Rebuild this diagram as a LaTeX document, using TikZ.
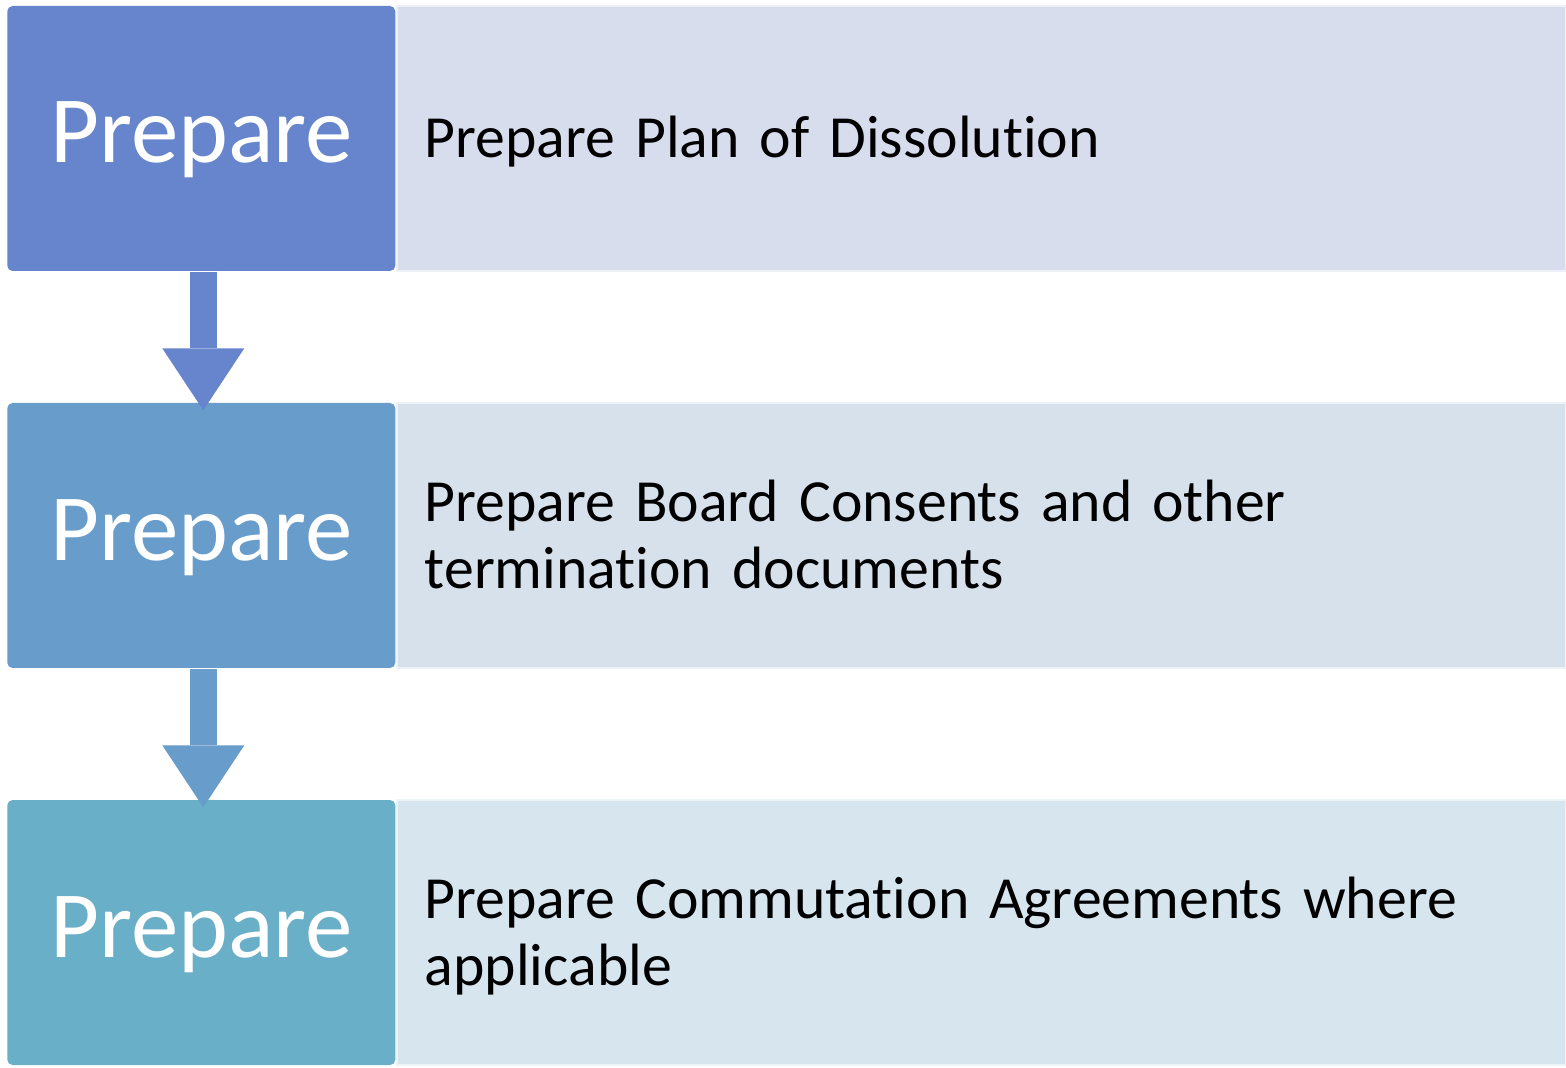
\documentclass[tikz,border=0pt]{standalone}
\usepackage{fontspec}
\setmainfont{Carlito}[Ligatures=NoCommon]
\usetikzlibrary{arrows.meta}
\usetikzlibrary{positioning}

\definecolor{stepA}{HTML}{6685CD}
\definecolor{stepB}{HTML}{679CCB}
\definecolor{stepC}{HTML}{6AAFC8}
\definecolor{descA}{HTML}{D8DDEE}
\definecolor{descB}{HTML}{D7E1EC}
\definecolor{descC}{HTML}{D7E6EE}

\tikzset{
  stepbox/.style={rectangle, rounded corners=1.5pt, minimum width=3.88cm, minimum height=2.65cm,
    inner sep=0pt, text height=0.49cm, text depth=0pt, text=white, font=\fontsize{27}{32}\selectfont},
  descbox/.style={rectangle, draw=white!55!#1, fill=#1, line width=0.5pt, minimum height=2.65cm,
    text width=11.13cm, inner xsep=0.28cm, inner ysep=0pt, align=left,
    font=\fontsize{17}{19.1}\selectfont,
    execute at begin node={\rule{0pt}{0.52cm}}, execute at end node={\rule[-0.13cm]{0pt}{0pt}}},
}

\begin{document}
\begin{tikzpicture}
\useasboundingbox (0,0) rectangle (15.66,10.67);
\fill[white] (0,0) rectangle (15.66,10.67);
% the three steps, each with its description to the right
\foreach \i/\y/\c/\t in {1/9.285/A/{Prepare Plan of Dissolution},
                          2/5.315/B/{Prepare Board Consents and other\\termination documents},
                          3/1.345/C/{Prepare Commutation Agreements where\\applicable}} {
 \node[descbox=desc\c, anchor=west] (desc\i) at (3.96,\y) {\t};
 \node[stepbox, fill=step\c, left=0pt of desc\i] (step\i) {Prepare};
}
% block arrows between the steps
\foreach \i/\j/\c in {1/2/A, 2/3/B} {
 \draw[step\c, line width=0.27cm, shorten >=-0.08cm, -{Triangle[length=0.62cm, width=0.82cm, line width=0pt]}]
   ([xshift=0.02cm]step\i.south) -- ([xshift=0.02cm]step\j.north);
}
\end{tikzpicture}
\end{document}
